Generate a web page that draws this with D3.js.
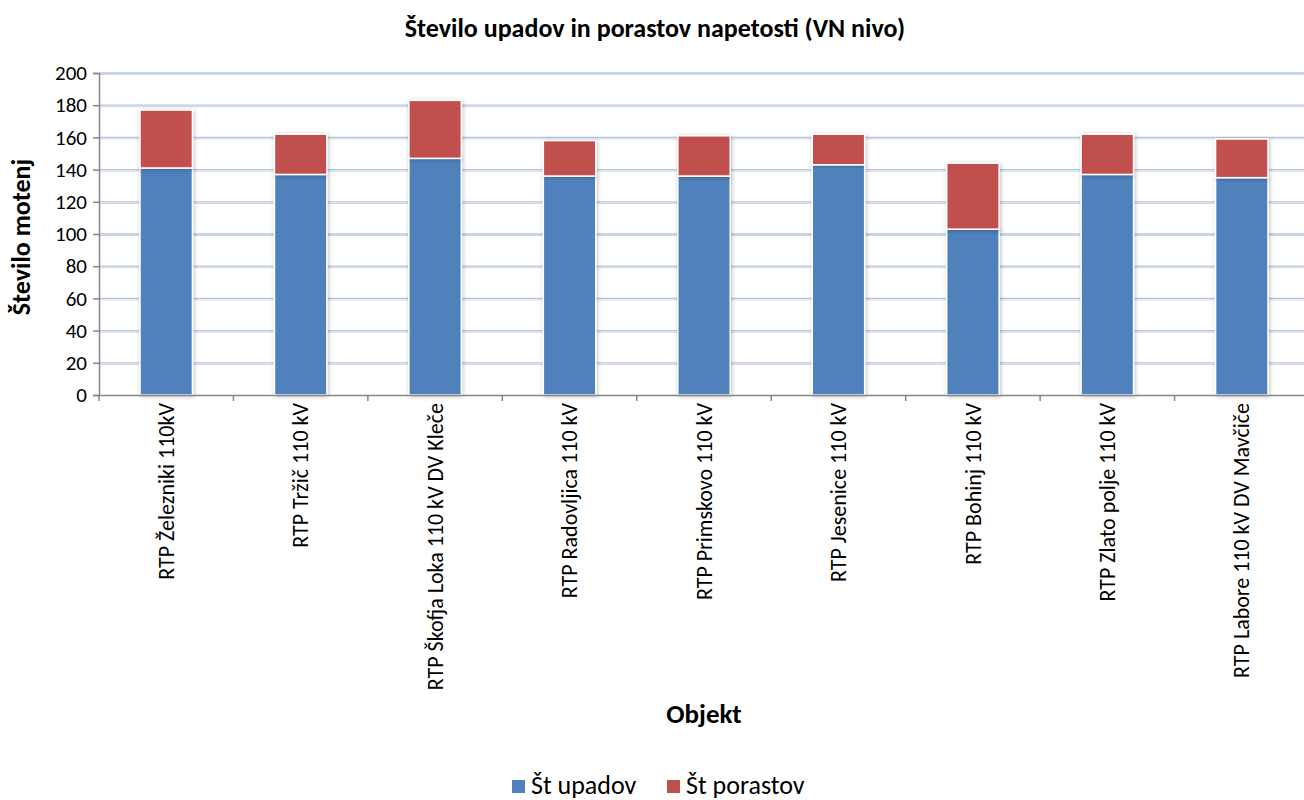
<!doctype html>
<html>
<head>
<meta charset="utf-8"/>
<title>Število upadov in porastov napetosti</title>
<script src="https://cdnjs.cloudflare.com/ajax/libs/d3/7.8.5/d3.min.js"></script>
<style>
  body { margin: 0; background: #fff; }
  svg { font-family: Carlito, Lato, "Open Sans", sans-serif; }
</style>
</head>
<body>
<svg id="chart" width="1304" height="800"></svg>
<script>
var objekti = ["RTP Železniki 110kV", "RTP Tržič 110 kV", "RTP Škofja Loka 110 kV DV Kleče",
  "RTP Radovljica 110 kV", "RTP Primskovo 110 kV", "RTP Jesenice 110 kV",
  "RTP Bohinj 110 kV", "RTP Zlato polje 110 kV", "RTP Labore 110 kV DV Mavčiče"];
var upadi = [141, 137, 147, 136, 136, 143, 103, 137, 135];
var porasti = [36, 25, 36, 22, 25, 19, 41, 25, 24];
var serije = ["Št upadov", "Št porastov"];
var barve = ["#4f81bd", "#c0504d"];
var yTicks = [0, 20, 40, 60, 80, 100, 120, 140, 160, 180, 200];

var svg = d3.select("#chart");
var plotLeft = 99, plotRight = 1309, plotTop = 73, plotBottom = 395;

var xScale = d3.scaleBand().domain(objekti).range([plotLeft, plotRight]).paddingInner(0.61).paddingOuter(0.305);
var yScale = d3.scaleLinear().domain([0, 200]).range([plotBottom, plotTop]);

var defs = svg.append("defs");
var f = defs.append("filter").attr("id", "senca").attr("x", "-20%").attr("y", "-10%").attr("width", "140%").attr("height", "120%");
f.append("feDropShadow").attr("dx", 1).attr("dy", 1).attr("stdDeviation", 2).attr("flood-color", "#000").attr("flood-opacity", 0.25);

// mreža
var grid = svg.append("g");
grid.selectAll("line.sh").data(yTicks.slice(1)).enter().append("line")
  .attr("x1", plotLeft).attr("x2", 1304)
  .attr("y1", function(d){ return yScale(d) + 1.5; }).attr("y2", function(d){ return yScale(d) + 1.5; })
  .attr("stroke", "#d0d4dc").attr("stroke-width", 1);
grid.selectAll("line.gl").data(yTicks.slice(1)).enter().append("line")
  .attr("x1", plotLeft).attr("x2", 1304)
  .attr("y1", function(d){ return yScale(d); }).attr("y2", function(d){ return yScale(d); })
  .attr("stroke", "#b3c7e6").attr("stroke-width", 1.3);

// stolpci
var rows = objekti.map(function(o, i){ return {objekt: o, upadi: upadi[i], porasti: porasti[i]}; });
var stack = d3.stack().keys(["upadi", "porasti"])(rows);

svg.append("g").selectAll("g").data(stack).enter().append("g")
  .attr("fill", function(d, i){ return barve[i]; })
  .selectAll("rect").data(function(d){ return d; }).enter().append("rect")
  .attr("x", function(d){ return xScale(d.data.objekt); })
  .attr("width", xScale.bandwidth())
  .attr("y", function(d){ return yScale(d[1]); })
  .attr("height", function(d){ return yScale(d[0]) - yScale(d[1]); })
  .attr("stroke", "#fff").attr("stroke-width", 1.5)
  .attr("filter", "url(#senca)");

// y os
var yAxis = d3.axisLeft(yScale).tickValues(yTicks).tickSize(6).tickPadding(6).tickFormat(d3.format("d"));
var yG = svg.append("g").attr("transform", "translate(" + plotLeft + ",0)").call(yAxis);
yG.select(".domain").attr("stroke", "#868686").attr("stroke-width", 1.5);
yG.selectAll(".tick line").attr("stroke", "#868686").attr("stroke-width", 1.5);
yG.selectAll("text").attr("font-size", 21).attr("fill", "#000").attr("font-family", "Carlito, Lato, sans-serif");

// x os
var xAxis = d3.axisBottom(xScale).tickSize(0).tickFormat(function(d){ return d; });
var xG = svg.append("g").attr("transform", "translate(0," + plotBottom + ")").call(xAxis);
xG.select(".domain").attr("stroke", "#868686").attr("stroke-width", 1.5);
var granice = objekti.map(function(o){ return xScale(o) - xScale.step() * xScale.paddingInner() / 2; });
xG.selectAll("line.meja").data(granice).enter().append("line")
  .attr("x1", function(d){ return d; }).attr("x2", function(d){ return d; })
  .attr("y1", 0).attr("y2", 6).attr("stroke", "#868686").attr("stroke-width", 1.5);
xG.selectAll(".tick text")
  .attr("font-size", 22).attr("fill", "#000").attr("font-family", "Carlito, Lato, sans-serif")
  .attr("text-anchor", "end").attr("dy", "0.35em")
  .attr("transform", "translate(0,8) rotate(-90)").attr("x", 0).attr("y", 0);

// naslovi
svg.append("text").attr("x", 655).attr("y", 37).attr("text-anchor", "middle")
  .attr("font-size", 26).attr("font-weight", "bold").text("Število upadov in porastov napetosti (VN nivo)");
svg.append("text").attr("transform", "translate(30,237) rotate(-90)").attr("text-anchor", "middle")
  .attr("font-size", 26).attr("font-weight", "bold").text("Število motenj");
svg.append("text").attr("x", 704).attr("y", 723).attr("text-anchor", "middle")
  .attr("font-size", 27).attr("font-weight", "bold").text("Objekt");

// legenda
var leg = svg.append("g");
var legX = [512, 667];
serije.forEach(function(s, i){
  leg.append("rect").attr("x", legX[i]).attr("y", 780).attr("width", 13).attr("height", 13).attr("fill", barve[i]);
  leg.append("text").attr("x", legX[i] + 19).attr("y", 794).attr("font-size", 26).text(s);
});
</script>
</body>
</html>
